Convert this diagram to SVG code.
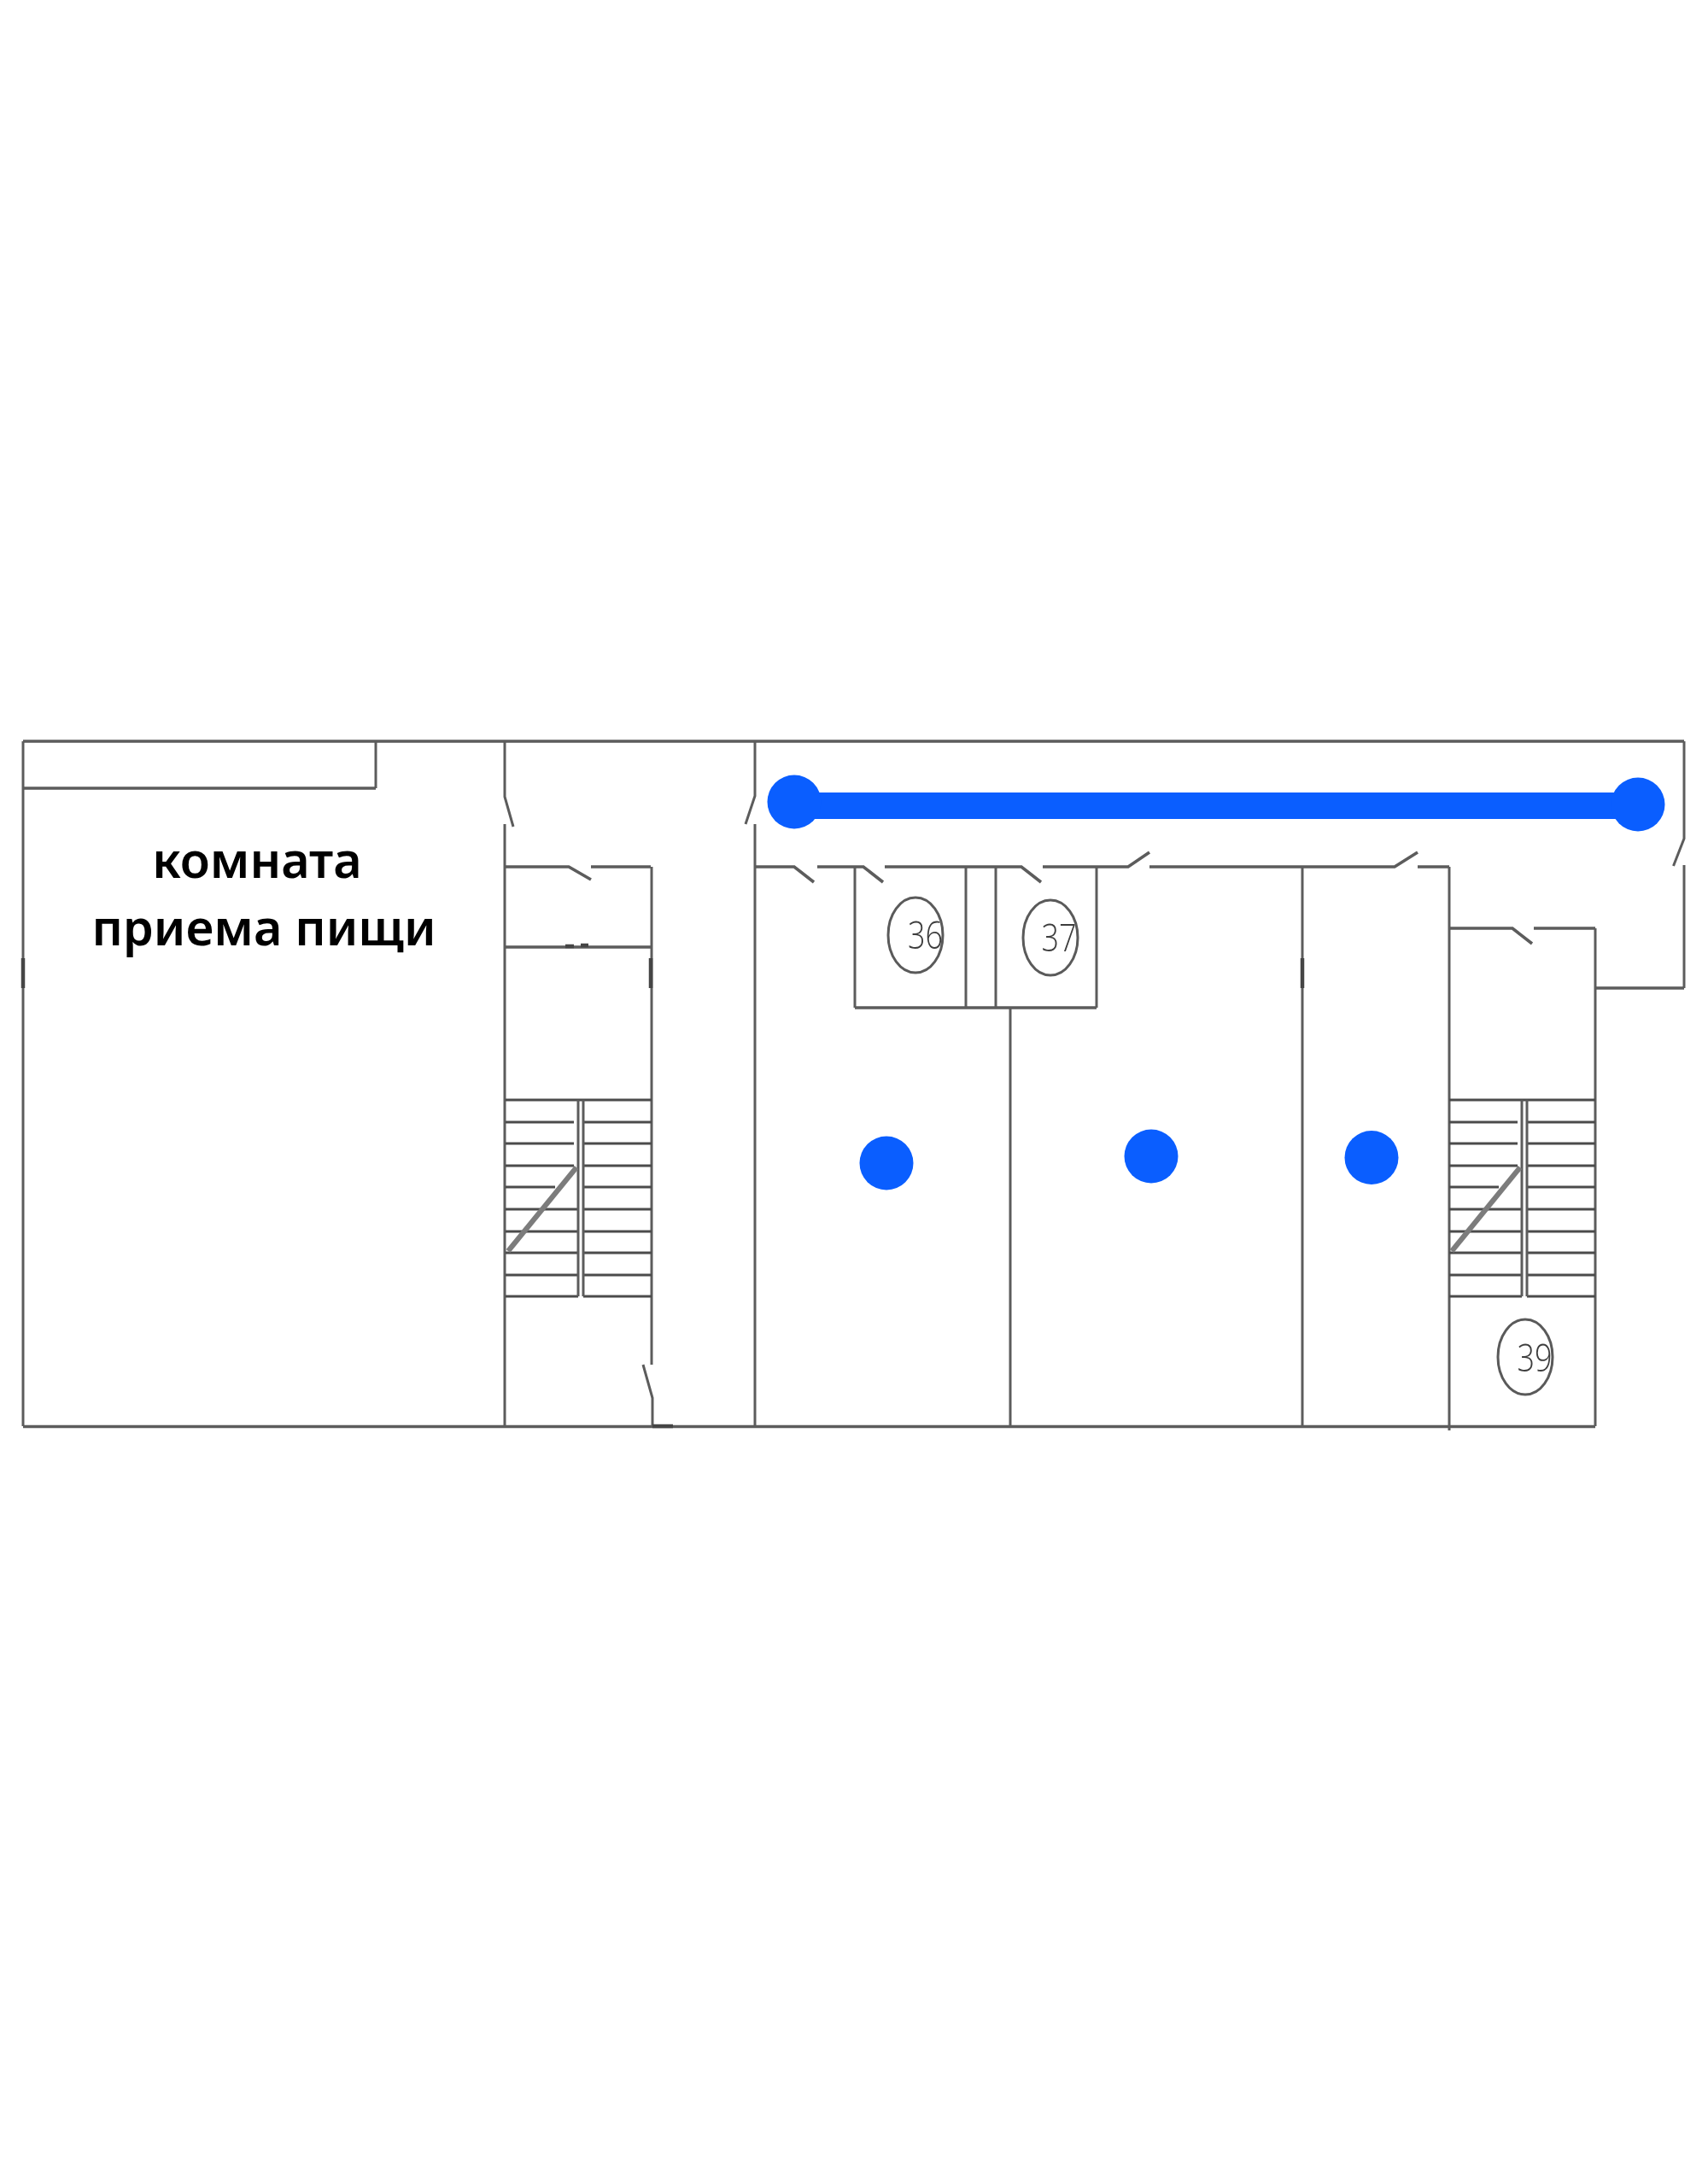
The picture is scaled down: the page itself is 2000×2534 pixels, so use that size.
<svg xmlns="http://www.w3.org/2000/svg" width="2000" height="2534" viewBox="0 0 2000 2534">
<defs><filter id="soft" x="-2%" y="-2%" width="104%" height="104%"><feGaussianBlur stdDeviation="0.6"/></filter></defs>
<style>
.w{fill:none;stroke:#5c5c5c;stroke-width:3;stroke-linecap:butt;stroke-linejoin:miter}
.h{fill:none;stroke:#5c5c5c;stroke-width:3.6}
.t{fill:none;stroke:#4c4c4c;stroke-width:3.2}
.d{fill:none;stroke:#7c7c7c;stroke-width:6}
.dark{fill:none;stroke:#444;stroke-width:4.5}
.c{fill:none;stroke:#5a5a5a;stroke-width:3}
.n{font-family:"Open Sans","Liberation Sans",sans-serif;font-weight:300;font-size:45px;fill:#3c3c3c;text-anchor:middle}
.l{font-family:"Noto Sans","Liberation Sans",sans-serif;font-weight:600;font-size:57.500px;fill:#000;text-anchor:middle}
.b{fill:#0a5eff}
</style>
<rect width="2000" height="2534" fill="#fff"/>
<g id="plan" filter="url(#soft)">
<g id="walls">
<path class="h" d="M27 868H1972M27 923H440M27 1670.500H1868"/>
<path class="w" d="M27 868V1670M440 868V923M591 868V933L601 968M591 965V1670M884 868V932L873 965M884 965V1670M1183 1180V1670M1525 1015V1670M1697 1015V1675M1868 1087V1670M1972 868V982L1959.500 1014M1972 1013V1157"/>
<path class="w" d="M763 1015V1598M753 1598L764 1637V1670"/>
<path class="h" d="M591 1015H666L692 1030M692 1015H762M591 1109H762M884 1015H930L953 1033M957 1015H1011L1034 1033M1036 1015H1196L1219 1033M1221 1015H1321L1346 998M1346 1015H1633L1660 998M1660 1015H1697M1697 1087H1771L1794 1105M1796 1087H1868M1867 1157H1972M1001 1180H1284"/>
<path class="w" d="M1001 1015V1180M1131 1015V1180M1166 1015V1180M1284 1015V1180"/>
<path class="dark" d="M27 1122V1157M762 1122V1157M1525 1122V1157M764 1670H788M662 1108H672M680 1107H689"/>
</g>
<g id="stair-left">
<path class="t" d="M592 1288H763M592 1314H672M592 1339H672M592 1365H672M592 1390H650M592 1416H677M592 1442H677M592 1467H677M592 1493H677M592 1518H677M683 1314H763M683 1339H763M683 1365H763M683 1390H763M683 1416H763M683 1442H763M683 1467H763M683 1493H763M683 1518H763"/>
<path class="w" d="M677 1288V1518M683 1288V1518"/>
<path class="d" d="M595 1465L675 1367"/>
</g>
<g id="stair-right">
<path class="t" d="M1697 1288H1868M1697 1314H1777M1697 1339H1777M1697 1365H1777M1697 1390H1755M1697 1416H1782M1697 1442H1782M1697 1467H1782M1697 1493H1782M1697 1518H1782M1788 1314H1868M1788 1339H1868M1788 1365H1868M1788 1390H1868M1788 1416H1868M1788 1442H1868M1788 1467H1868M1788 1493H1868M1788 1518H1868"/>
<path class="w" d="M1782 1288V1518M1788 1288V1518"/>
<path class="d" d="M1700 1465L1780 1367"/>
</g>
<g id="room-36"><ellipse class="c" cx="1072" cy="1095" rx="32" ry="44"/><text class="n" transform="translate(1083.500 1111) scale(.8 1)">36</text></g>
<g id="room-37"><ellipse class="c" cx="1230" cy="1098" rx="32" ry="44"/><text class="n" transform="translate(1240 1114) scale(.8 1)">37</text></g>
<g id="room-39"><ellipse class="c" cx="1786" cy="1589" rx="32" ry="44"/><text class="n" transform="translate(1797 1606) scale(.8 1)">39</text></g>
</g>
<g id="label"><text class="l" x="301" y="1028">комната</text><text class="l" x="309" y="1107">приема пищи</text></g>
<g id="markers">
<rect class="b" x="930" y="928" width="988" height="31"/>
<circle class="b" cx="930" cy="939" r="31.500"/>
<circle class="b" cx="1918" cy="942" r="31.500"/>
<circle class="b" cx="1038" cy="1362" r="31.500"/>
<circle class="b" cx="1348" cy="1354" r="31.500"/>
<circle class="b" cx="1606" cy="1355.500" r="31.500"/>
</g>
</svg>
